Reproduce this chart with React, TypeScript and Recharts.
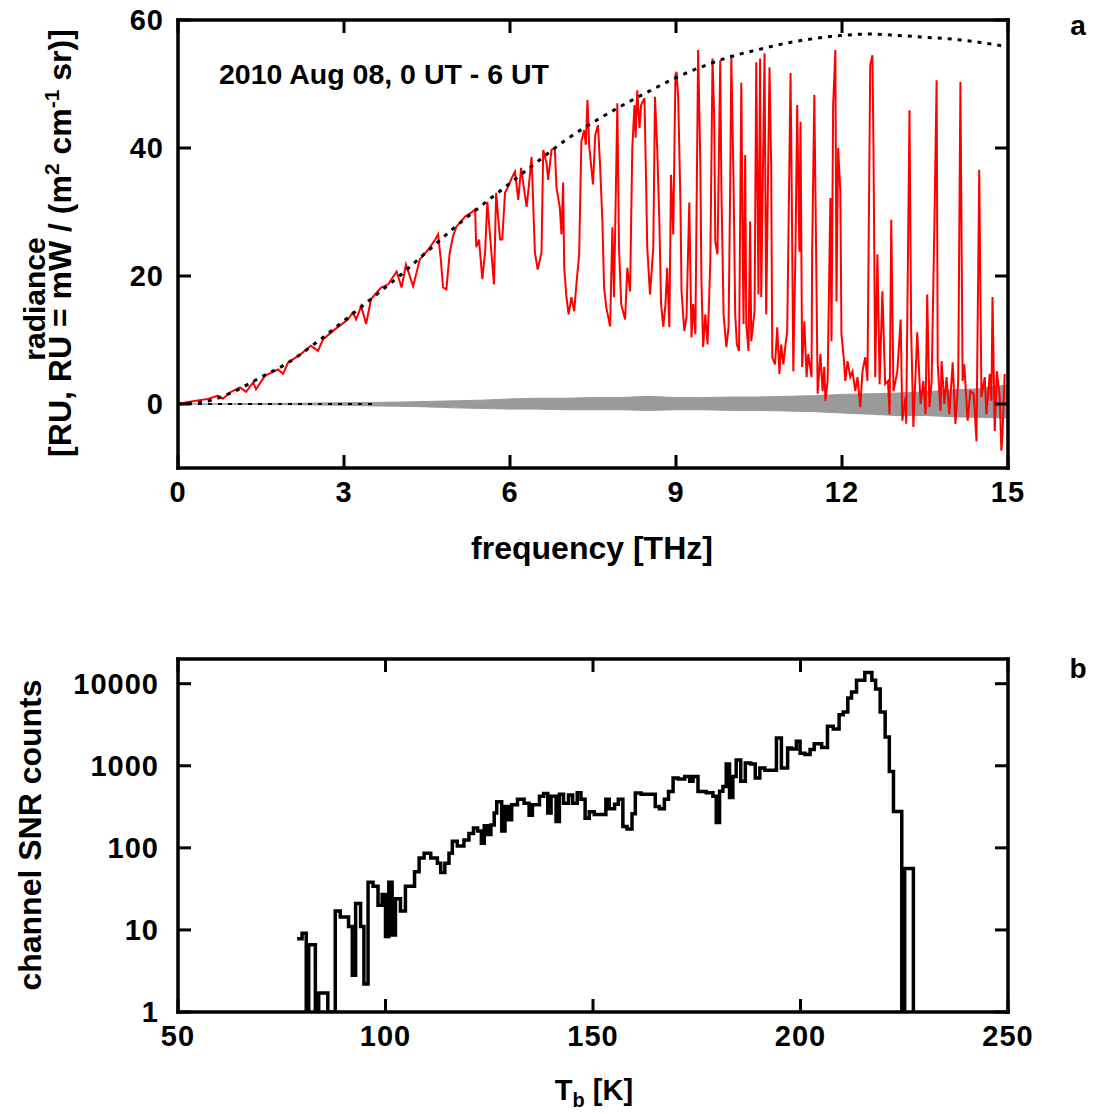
import React from 'react';
import { ComposedChart, LineChart, Line, Area, XAxis, YAxis } from 'recharts';

const FONT = '"Liberation Sans", Arial, Helvetica, sans-serif';

// tick values
const freqTicks = [0, 3, 6, 9, 12, 15];
const radianceTicks = [0, 20, 40, 60];
const tempTicks = [50, 100, 150, 200, 250];
const countTicks = [1, 10, 100, 1000, 10000];

// blackbody curve (dotted) and noise band, sampled every 0.5 THz
const planckFreq = [
  0, 0.5, 1, 1.5, 2, 2.5, 3, 3.5, 4, 4.5, 5, 5.5, 6, 6.5, 7, 7.5,
  8, 8.5, 9, 9.5, 10, 10.5, 11, 11.5, 12, 12.5, 13, 13.5, 14, 14.5, 15,
];
const planckRadiance = [
  0, 0.4, 1.9, 4.2, 6.5, 9.6, 13, 16.5, 20, 23.8, 27.6, 31.1, 34.5, 37.9, 41.2, 44.0,
  46.5, 48.8, 51.0, 52.8, 54.3, 55.4, 56.4, 57.1, 57.6, 57.8, 57.6, 57.3, 57.0, 56.5, 55.8,
];
const noiseLow = [
  0, 0, -0.05, -0.1, -0.1, -0.15, -0.2, -0.3, -0.35, -0.45, -0.6, -0.7, -0.8, -0.8, -0.9, -0.9,
  -0.9, -1.0, -0.9, -0.9, -1.0, -1.0, -1.1, -1.2, -1.4, -1.6, -1.8, -1.8, -2.0, -2.1, -2.2,
];
const noiseHigh = [
  0, 0, 0.05, 0.1, 0.1, 0.15, 0.2, 0.25, 0.3, 0.4, 0.5, 0.6, 0.8, 0.9, 0.9, 1.0,
  1.0, 1.2, 1.0, 1.0, 1.1, 1.1, 1.2, 1.3, 1.5, 1.6, 1.7, 1.9, 2.2, 2.4, 3.0,
];
const zeroFreq = [0, 3.6];

// measured spectrum [THz, RU]
const spectrum: [number, number][] = [
  [0, 0], [0.18, 0.3], [0.54, 0.8], [0.72, 1.3], [0.81, 0.8], [0.96, 1.9], [1.12, 2.6], [1.23, 1.9],
  [1.36, 3.4], [1.41, 2.3], [1.57, 4.4], [1.81, 5.4], [1.9, 4.7], [1.99, 6.5], [2.22, 7.8], [2.4, 9.1],
  [2.53, 8.3], [2.62, 10.1], [2.84, 11.7], [3.07, 13.2], [3.16, 14.3], [3.22, 13.2], [3.31, 15.3],
  [3.4, 12.5], [3.49, 16.4], [3.67, 18.2], [3.8, 18.7], [3.95, 20.7], [4.04, 18.2], [4.12, 21.8],
  [4.25, 18.4], [4.37, 22.6], [4.52, 24.1], [4.65, 25.7], [4.7, 26.5], [4.75, 22.6], [4.79, 18.2],
  [4.85, 17.9], [4.91, 23.6], [4.97, 26.2], [5.03, 27.7], [5.19, 29.3], [5.3, 29.9], [5.37, 30.4],
  [5.39, 24.5], [5.44, 25.7], [5.5, 19.5], [5.55, 23.7], [5.59, 31.6], [5.66, 24.1], [5.71, 18.7],
  [5.75, 33], [5.82, 25.7], [5.86, 25.7], [5.91, 33], [5.97, 34], [6.03, 35.3], [6.09, 36.3],
  [6.15, 31.9], [6.2, 36.9], [6.3, 30.8], [6.34, 34], [6.39, 38.6], [6.45, 23.7], [6.5, 21],
  [6.57, 23.7], [6.6, 39.7], [6.66, 37.7], [6.69, 35], [6.75, 39.7], [6.81, 40], [6.84, 33.8],
  [6.9, 30.7], [6.93, 26.5], [6.96, 34.6], [6.98, 21.3], [7.02, 16.7], [7.06, 14], [7.11, 16.7],
  [7.16, 14.5], [7.2, 18.7], [7.25, 23.4], [7.29, 41], [7.34, 42.8], [7.37, 40.5], [7.4, 47.5],
  [7.43, 40.5], [7.47, 36.9], [7.5, 34.3], [7.54, 42], [7.59, 43.6], [7.63, 36.9], [7.67, 28.5],
  [7.7, 18.2], [7.74, 15.1], [7.81, 12.1], [7.85, 27.6], [7.88, 16.7], [7.94, 47], [7.97, 24.5],
  [8.01, 15.6], [8.08, 13.2], [8.12, 21.3], [8.17, 17.6], [8.21, 40], [8.25, 46.7], [8.27, 41.6],
  [8.3, 49], [8.34, 43.1], [8.37, 46.7], [8.43, 47.8], [8.46, 34.7], [8.48, 24.5], [8.53, 17.1],
  [8.59, 24.5], [8.62, 48], [8.66, 40], [8.7, 28.5], [8.73, 15.6], [8.77, 12.1], [8.81, 15.6],
  [8.84, 21.3], [8.88, 12], [8.91, 35.8], [8.95, 26.5], [8.99, 51.4], [9.01, 51.9], [9.04, 47.8],
  [9.08, 31.6], [9.1, 17.6], [9.15, 11.4], [9.19, 13.6], [9.24, 31.5], [9.28, 10.4], [9.31, 15.6],
  [9.35, 10.9], [9.4, 55.3], [9.44, 37.4], [9.46, 19.2], [9.49, 8.9], [9.53, 14], [9.57, 9.3],
  [9.6, 16.7], [9.62, 22.3], [9.66, 54], [9.69, 45], [9.71, 25.4], [9.75, 23.4], [9.8, 53.7],
  [9.82, 33.8], [9.86, 14], [9.89, 10.9], [9.91, 8.9], [9.95, 12], [9.98, 34.7], [10.0, 54.2],
  [10.04, 34.7], [10.07, 14], [10.1, 9.3], [10.14, 8.3], [10.18, 50.2], [10.2, 29.6], [10.22, 12.5],
  [10.25, 38.9], [10.27, 12.5], [10.31, 8.3], [10.34, 28.5], [10.36, 9.8], [10.42, 14.5],
  [10.45, 53.4], [10.49, 17.1], [10.52, 54], [10.54, 16.7], [10.6, 54.8], [10.63, 14], [10.69, 52.6],
  [10.72, 37.4], [10.74, 7.3], [10.79, 6.2], [10.83, 12], [10.87, 4.7], [10.9, 9.3], [10.94, 6.2],
  [10.98, 9.3], [11.01, 11.4], [11.07, 51.7], [11.09, 34.7], [11.12, 5.1], [11.16, 24.5],
  [11.19, 46.7], [11.23, 23.8], [11.25, 44.1], [11.28, 5.8], [11.32, 12.9], [11.36, 4.2],
  [11.39, 7.8], [11.45, 4.2], [11.46, 23.4], [11.5, 48.3], [11.54, 17.6], [11.56, 1.6], [11.61, 7.8],
  [11.65, 2], [11.68, 5.8], [11.7, 0.5], [11.74, 3.6], [11.79, 32.2], [11.81, 9.8], [11.84, 46.7],
  [11.88, 55.3], [11.9, 16], [11.93, 40], [11.97, 33.2], [11.99, 10.9], [12.03, 7.3], [12.06, 3.6],
  [12.1, 6.7], [12.15, 4.2], [12.19, 5.1], [12.24, 2], [12.28, 4.2], [12.33, -0.5], [12.37, 5.1],
  [12.42, 7.3], [12.46, 3.6], [12.51, 53], [12.55, 54.5], [12.57, 38.9], [12.6, 4.2], [12.64, 23.4],
  [12.68, 3.1], [12.73, 17.6], [12.78, 3.1], [12.83, 3.6], [12.86, -1.6], [12.89, 28.8], [12.93, 2],
  [13.0, 5.1], [13.06, 13.2], [13.09, -2.6], [13.15, 1.1], [13.16, -3.1], [13.22, 45.9],
  [13.25, 11.4], [13.29, -3.6], [13.33, 4.7], [13.36, 11.2], [13.42, 0], [13.47, 3.6], [13.51, -1.6],
  [13.54, 17.1], [13.58, -0.5], [13.62, 3.6], [13.67, 28], [13.71, 50.6], [13.73, 6.2], [13.78, -1.1],
  [13.8, 6.7], [13.85, 0], [13.89, 4.2], [13.94, -1.6], [14.0, 6.5], [14.05, -3.1], [14.1, 3.6],
  [14.14, 50.3], [14.18, 3.6], [14.21, 6.2], [14.27, -2.6], [14.32, 2], [14.38, 1.6], [14.43, -5.8],
  [14.48, 36.6], [14.52, 1.1], [14.58, 4.2], [14.61, -1.6], [14.67, 4.7], [14.7, 0.5], [14.72, 16.7],
  [14.76, -4.2], [14.8, 5.1], [14.85, 1.1], [14.88, -7.3], [14.9, -4.7], [14.94, 4.7],
];

// SNR histogram steps [Tb (K), counts]; 1 = empty bin (axis floor)
const snrHistogram: [number, number][] = [
  [78.7, 7.8], [79.9, 9.1], [80.9, 1], [81.5, 6.6], [83.1, 1], [83.9, 1.7], [86.1, 1], [87.9, 17],
  [89.1, 14.4], [91.1, 11], [92.0, 2.8], [92.8, 21], [94.0, 11], [94.8, 2.2], [95.8, 38], [97.0, 34],
  [98.2, 20], [99.2, 27], [100.0, 8.3], [100.8, 38], [101.6, 8.7], [102.4, 24], [103.6, 17],
  [104.8, 34], [107.0, 51], [108.1, 75], [109.3, 86], [110.9, 75], [112.5, 65], [113.3, 50],
  [114.3, 65], [115.3, 86], [116.1, 120], [117.3, 105], [118.9, 125], [120.1, 150], [121.2, 175],
  [122.2, 160], [123.1, 114], [123.8, 186], [124.6, 145], [125.4, 190], [126.2, 265], [126.8, 365],
  [128.0, 160], [128.8, 320], [129.6, 220], [130.4, 335], [131.8, 390], [133.4, 350], [134.6, 250],
  [135.4, 335], [137.1, 425], [138.1, 460], [139.1, 265], [139.9, 425], [141.1, 210], [141.9, 450],
  [142.9, 350], [144.1, 440], [145.1, 350], [146.2, 470], [147.1, 390], [148.1, 230], [149.1, 275],
  [150.3, 255], [153.1, 390], [153.9, 300], [155.2, 340], [156.1, 390], [157.2, 182], [158.2, 170],
  [159.4, 260], [160.2, 465], [161.6, 450], [165.0, 318], [166.0, 300], [167.2, 390], [168.2, 485],
  [169.3, 710], [170.5, 690], [172.1, 740], [173.3, 650], [174.1, 740], [175.3, 485], [177.3, 470],
  [178.9, 425], [179.7, 203], [180.5, 490], [181.3, 560], [182.1, 1050], [182.9, 410], [183.7, 740],
  [184.5, 1180], [185.6, 650], [186.7, 1080], [188.0, 1050], [189.1, 710], [190.2, 940],
  [191.4, 880], [194.2, 2180], [195.4, 940], [196.9, 1650], [197.8, 1600], [199.0, 1990],
  [199.9, 1420], [201.1, 1370], [202.3, 1580], [203.3, 1860], [205.1, 1670], [206.5, 3030],
  [207.9, 2800], [209.3, 4180], [210.3, 4530], [211.4, 6700], [212.3, 7900], [213.5, 11000],
  [215.5, 13700], [217.2, 11000], [218.1, 8600], [219.2, 4530], [220.4, 2240], [221.4, 850],
  [222.4, 277], [224.4, 1], [225.1, 56], [227.2, 1],
];

const planckData = planckFreq.map((f, i) => ({ f, v: planckRadiance[i] }));
const noiseData = planckFreq.map((f, i) => ({ f, band: [noiseLow[i], noiseHigh[i]] }));
const zeroData = zeroFreq.map((f) => ({ f, v: 0 }));
const spectrumData = spectrum.map(([f, v]) => ({ f, v }));
const histData = snrHistogram.map(([t, n]) => ({ t, n }));

const TICK_LEN = 13;
const X_GAP = 13;
const frame = { stroke: '#000', strokeWidth: 3.5, strokeLinecap: 'square' as const };
const labelFont = { fill: '#000', fontSize: 29, fontWeight: 700, fontFamily: FONT, letterSpacing: 1 };

// gnuplot style ticks: marks point into the plot, labels sit outside
function BottomTick(props: any) {
  const { x, y, payload } = props;
  return (
    <g>
      <line x1={x} y1={y - X_GAP} x2={x} y2={y - X_GAP - TICK_LEN} stroke="#000" strokeWidth={3} />
      <text x={x} y={y} dy="0.72em" textAnchor="middle" {...labelFont}>{payload.value}</text>
    </g>
  );
}

function makeLeftTick(gap: number) {
  return function LeftTick(props: any) {
    const { x, y, payload } = props;
    return (
      <g>
        <line x1={x + gap} y1={y} x2={x + gap + TICK_LEN} y2={y} stroke="#000" strokeWidth={3} />
        <text x={x} y={y} dy="0.36em" textAnchor="end" {...labelFont}>{payload.value}</text>
      </g>
    );
  };
}

function TopTick(props: any) {
  const { x, y } = props;
  return <line x1={x} y1={y} x2={x} y2={y + TICK_LEN} stroke="#000" strokeWidth={3} />;
}

function RightTick(props: any) {
  const { x, y } = props;
  return <line x1={x} y1={y} x2={x - TICK_LEN} y2={y} stroke="#000" strokeWidth={3} />;
}

const TopLeftTick = makeLeftTick(14);
const BottomLeftTick = makeLeftTick(19);

export default function App() {
  return (
    <div style={{ position: 'absolute', left: 0, top: 0, width: 1096, height: 1114, background: '#fff' }}>
      <div style={{ position: 'absolute', left: 0, top: 0 }}>
        <ComposedChart width={1096} height={540} margin={{ top: 10, right: 68, bottom: 12, left: 98 }}>
          <XAxis
            xAxisId="b" dataKey="f" type="number" domain={[0, 15]} ticks={freqTicks}
            allowDataOverflow interval={0} height={60} tickSize={0} tickMargin={X_GAP}
            axisLine={frame} tickLine={false} tick={(p: any) => <BottomTick {...p} />}
          />
          <XAxis
            xAxisId="t" orientation="top" dataKey="f" type="number" domain={[0, 15]} ticks={freqTicks}
            allowDataOverflow interval={0} height={10} tickSize={0} tickMargin={0}
            axisLine={frame} tickLine={false} tick={(p: any) => <TopTick {...p} />}
          />
          <YAxis
            yAxisId="l" type="number" domain={[-10, 60]} ticks={radianceTicks} allowDataOverflow
            interval={0} width={80} tickSize={0} tickMargin={14}
            axisLine={frame} tickLine={false} tick={(p: any) => <TopLeftTick {...p} />}
          />
          <YAxis
            yAxisId="r" orientation="right" type="number" domain={[-10, 60]} ticks={radianceTicks}
            allowDataOverflow interval={0} width={20} tickSize={0} tickMargin={0}
            axisLine={frame} tickLine={false} tick={(p: any) => <RightTick {...p} />}
          />
          <Area
            xAxisId="b" yAxisId="l" data={noiseData} dataKey="band" type="linear"
            stroke="#9a9a9a" strokeWidth={1} fill="#9a9a9a" fillOpacity={1} isAnimationActive={false}
          />
          <Line
            xAxisId="b" yAxisId="l" data={zeroData} dataKey="v" type="linear" stroke="#000"
            strokeWidth={2} strokeDasharray="4 6" dot={false} isAnimationActive={false}
          />
          <Line
            xAxisId="b" yAxisId="l" data={spectrumData} dataKey="v" type="linear" stroke="#ff0000"
            strokeWidth={2} dot={false} isAnimationActive={false}
          />
          <Line
            xAxisId="b" yAxisId="l" data={planckData} dataKey="v" type="monotone" stroke="#000"
            strokeWidth={3} strokeDasharray="4 6" dot={false} isAnimationActive={false}
          />
          <Line
            xAxisId="t" yAxisId="r" data={planckData} dataKey="v" stroke="none"
            dot={false} isAnimationActive={false}
          />
        </ComposedChart>
      </div>

      <div style={{ position: 'absolute', left: 0, top: 600 }}>
        <LineChart width={1096} height={514} data={histData} margin={{ top: 49, right: 68, bottom: 42, left: 98 }}>
          <XAxis
            xAxisId="b" dataKey="t" type="number" domain={[50, 250]} ticks={tempTicks}
            allowDataOverflow interval={0} height={60} tickSize={0} tickMargin={X_GAP}
            axisLine={frame} tickLine={false} tick={(p: any) => <BottomTick {...p} />}
          />
          <XAxis
            xAxisId="t" orientation="top" dataKey="t" type="number" domain={[50, 250]} ticks={tempTicks}
            allowDataOverflow interval={0} height={10} tickSize={0} tickMargin={0}
            axisLine={frame} tickLine={false} tick={(p: any) => <TopTick {...p} />}
          />
          <YAxis
            yAxisId="l" type="number" scale="log" domain={[1, 20000]} ticks={countTicks} allowDataOverflow
            interval={0} width={80} tickSize={0} tickMargin={19}
            axisLine={frame} tickLine={false} tick={(p: any) => <BottomLeftTick {...p} />}
          />
          <YAxis
            yAxisId="r" orientation="right" type="number" scale="log" domain={[1, 20000]} ticks={countTicks}
            allowDataOverflow interval={0} width={20} tickSize={0} tickMargin={0}
            axisLine={frame} tickLine={false} tick={(p: any) => <RightTick {...p} />}
          />
          <Line
            xAxisId="b" yAxisId="l" dataKey="n" type="stepAfter" stroke="#000" strokeWidth={3.5}
            dot={false} isAnimationActive={false}
          />
          <Line
            xAxisId="t" yAxisId="r" dataKey="n" stroke="none" dot={false} isAnimationActive={false}
          />
        </LineChart>
      </div>

      <svg
        width={1096} height={1114}
        style={{ position: 'absolute', left: 0, top: 0, pointerEvents: 'none' }}
        fontFamily={FONT} fontWeight={700} fill="#000"
      >
        <text x={1078} y={35} fontSize={28} textAnchor="middle">a</text>
        <text x={1078} y={678} fontSize={28} textAnchor="middle">b</text>
        <text x={219} y={84} fontSize={28.5}>2010 Aug 08, 0 UT - 6 UT</text>
        <text x={592} y={559} fontSize={32} textAnchor="middle">frequency [THz]</text>
        <text x={594} y={1100} fontSize={29} textAnchor="middle">
          T<tspan dy={7} fontSize={20}>b</tspan>
          <tspan dy={-7}> [K]</tspan>
        </text>
        <text transform="translate(45,299) rotate(-90)" fontSize={30} textAnchor="middle">radiance</text>
        <text transform="translate(71,243) rotate(-90)" fontSize={32} textAnchor="middle">
          [RU, RU = mW / (m<tspan dy={-12} fontSize={21}>2</tspan>
          <tspan dy={12}> cm</tspan>
          <tspan dy={-12} fontSize={21}>-1</tspan>
          <tspan dy={12}> sr)]</tspan>
        </text>
        <text transform="translate(41,835) rotate(-90)" fontSize={32} textAnchor="middle">channel SNR counts</text>
      </svg>
    </div>
  );
}
